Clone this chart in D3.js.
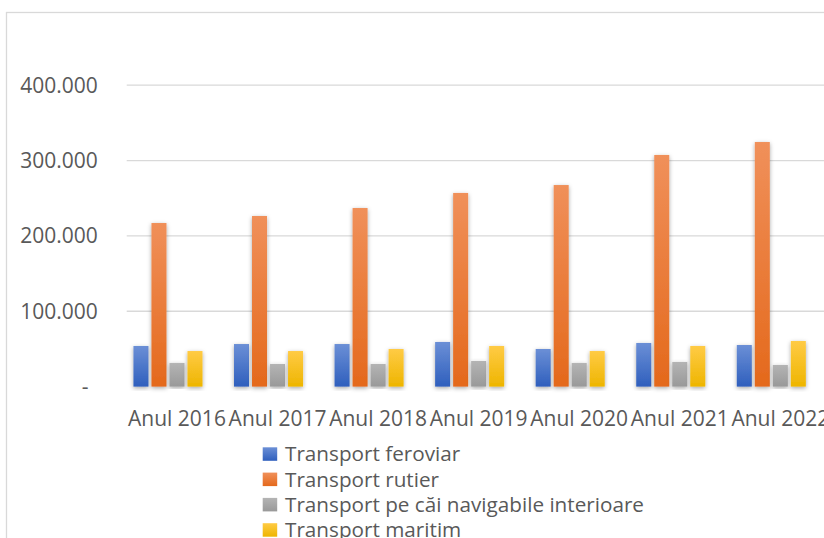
<!DOCTYPE html>
<html>
<head>
<meta charset="utf-8">
<script src="https://cdn.jsdelivr.net/npm/d3@7"></script>
<style>
  html, body { margin: 0; padding: 0; background: #fff; }
  svg { display: block; }
</style>
</head>
<body>
<div id="chart"></div>
<script>
// Données
const years = ["Anul 2016", "Anul 2017", "Anul 2018", "Anul 2019", "Anul 2020", "Anul 2021", "Anul 2022"];
const seriesNames = ["Transport feroviar", "Transport rutier", "Transport pe căi navigabile interioare", "Transport maritim"];
const feroviar = [53900, 56500, 56500, 59200, 49900, 57900, 55200];
const rutier = [217100, 226400, 237000, 257000, 267500, 307400, 324600];
const navigabil = [31300, 30000, 30000, 34000, 31300, 32700, 28700];
const maritim = [47200, 47200, 49900, 53900, 47200, 53900, 60500];
const yTicks = [0, 100000, 200000, 300000, 400000];

const allValues = [feroviar, rutier, navigabil, maritim];

const width = 824, height = 538;
const plot = { left: 126.7, right: 830.6, top: 85.2, bottom: 386.6 };

// couleurs : haut (clair) -> bas (foncé)
const colorsTop = ["#6b8fd6", "#f0905a", "#b4b4b4", "#ffcb45"];
const colorsBottom = ["#2f5fbd", "#e4691c", "#999999", "#eeb500"];
const textColor = "#595959";
const gridColor = "#d9d9d9";
const font = "'Open Sans', 'Noto Sans', sans-serif";

const svg = d3.select("#chart").append("svg")
    .attr("width", width)
    .attr("height", height);

const defs = svg.append("defs");
seriesNames.forEach((s, i) => {
    const g = defs.append("linearGradient")
        .attr("id", "grad" + i)
        .attr("x1", 0).attr("y1", 0).attr("x2", 0).attr("y2", 1);
    g.append("stop").attr("offset", "0%").attr("stop-color", colorsTop[i]);
    g.append("stop").attr("offset", "100%").attr("stop-color", colorsBottom[i]);
});
const shadow = defs.append("filter").attr("id", "shadow")
    .attr("x", "-50%").attr("y", "-10%").attr("width", "200%").attr("height", "120%");
shadow.append("feDropShadow")
    .attr("dx", 0).attr("dy", 1.5).attr("stdDeviation", 2)
    .attr("flood-color", "#000").attr("flood-opacity", 0.35);

// cadre du graphique (coupé à droite et en bas)
svg.append("rect")
    .attr("x", 6.5).attr("y", 12.5)
    .attr("width", width + 20).attr("height", height + 20)
    .attr("fill", "none")
    .attr("stroke", gridColor)
    .attr("stroke-width", 1.3);

// échelles
const x0 = d3.scaleBand()
    .domain(years)
    .range([plot.left, plot.right]);

// 5 emplacements par groupe : le dernier est une série vide (hors cadre dans la légende)
const x1 = d3.scaleBand()
    .domain(d3.range(5))
    .range([0, x0.bandwidth()])
    .paddingInner(0.2 / 1.2)
    .paddingOuter(0.375);

const y = d3.scaleLinear()
    .domain([0, 400000])
    .range([plot.bottom, plot.top]);

// quadrillage
svg.append("g")
    .selectAll("line")
    .data(yTicks.filter(d => d > 0))
    .enter()
    .append("line")
    .attr("x1", plot.left).attr("x2", width)
    .attr("y1", d => y(d)).attr("y2", d => y(d))
    .attr("stroke", gridColor)
    .attr("stroke-width", 1.3);

// étiquettes de l'axe Y
const fmt = v => v === 0 ? "-" : d3.format(",")(v).replace(/,/g, ".");
svg.append("g")
    .selectAll("text")
    .data(yTicks)
    .enter()
    .append("text")
    .attr("x", d => d === 0 ? 88.5 : 97.7)
    .attr("y", d => y(d))
    .attr("dy", "0.35em")
    .attr("text-anchor", "end")
    .style("font-family", font)
    .style("font-size", "21px")
    .style("fill", textColor)
    .text(fmt);

// barres
const groups = svg.append("g")
    .selectAll("g")
    .data(years)
    .enter()
    .append("g")
    .attr("transform", d => `translate(${x0(d)},0)`);

groups.selectAll("rect")
    .data((d, yi) => allValues.map((arr, si) => ({ si: si, value: arr[yi] })))
    .enter()
    .append("rect")
    .attr("x", d => x1(d.si))
    .attr("width", x1.bandwidth())
    .attr("y", d => y(d.value))
    .attr("height", d => plot.bottom - y(d.value))
    .attr("fill", d => `url(#grad${d.si})`)
    .attr("filter", "url(#shadow)");

// ligne de base
svg.append("line")
    .attr("x1", plot.left).attr("x2", width)
    .attr("y1", plot.bottom + 1).attr("y2", plot.bottom + 1)
    .attr("stroke", gridColor)
    .attr("stroke-width", 2)
    .attr("filter", "url(#shadow)");

// étiquettes de l'axe X
svg.append("g")
    .selectAll("text")
    .data(years)
    .enter()
    .append("text")
    .attr("x", d => x0(d) + x0.bandwidth() / 2)
    .attr("y", 426)
    .attr("text-anchor", "middle")
    .style("font-family", font)
    .style("font-size", "21px")
    .style("fill", textColor)
    .text(d => d);

// légende
const legend = svg.append("g")
    .selectAll("g")
    .data(seriesNames)
    .enter()
    .append("g")
    .attr("transform", (d, i) => `translate(262.7,${447.3 + i * 25.3})`);

legend.append("rect")
    .attr("width", 14.5)
    .attr("height", 13.5)
    .attr("fill", (d, i) => `url(#grad${i})`);

legend.append("text")
    .attr("x", 22.3)
    .attr("y", 6.8)
    .attr("dy", "0.35em")
    .style("font-family", font)
    .style("font-size", "20.7px")
    .style("fill", textColor)
    .text(d => d);
</script>
</body>
</html>
